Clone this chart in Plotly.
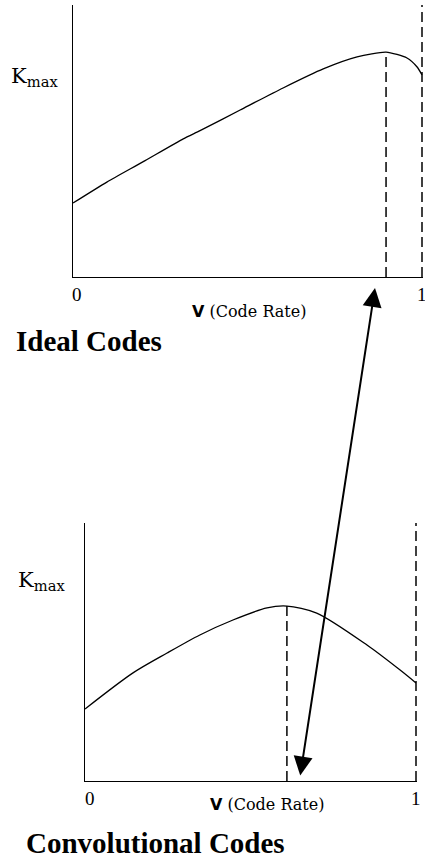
import plotly.graph_objects as go

# ---- data ----
rate_ideal = [0, 0.097, 0.2, 0.316, 0.364, 0.479, 0.602, 0.717, 0.814, 0.897, 0.957, 0.986, 1.0]
kmax_ideal = [0.272, 0.349, 0.423, 0.508, 0.538, 0.614, 0.695, 0.765, 0.809, 0.827, 0.805, 0.772, 0.743]

rate_conv = [0, 0.145, 0.248, 0.347, 0.447, 0.55, 0.61, 0.70, 0.852, 0.952, 1.0]
kmax_conv = [0.279, 0.419, 0.496, 0.566, 0.624, 0.671, 0.678, 0.651, 0.527, 0.430, 0.380]

peak_ideal = 0.897
peak_conv = 0.61
tick_values = [0, 1]
tick_labels = ["0", "1"]

W, H = 425, 858


def px(x):
    return x / W


def py(y):
    return 1 - y / H


fig = go.Figure()
fig.add_trace(go.Scatter(x=rate_ideal, y=kmax_ideal, mode="lines",
                         line=dict(color="black", width=1.3, shape="spline", smoothing=0.6),
                         xaxis="x", yaxis="y", hoverinfo="skip"))
fig.add_trace(go.Scatter(x=rate_conv, y=kmax_conv, mode="lines",
                         line=dict(color="black", width=1.3, shape="spline", smoothing=0.8),
                         xaxis="x2", yaxis="y2", hoverinfo="skip"))

axis_common = dict(showline=True, linecolor="black", linewidth=1.2, showgrid=False,
                   zeroline=False, showticklabels=False, ticks="", fixedrange=True)

fig.update_layout(
    width=W, height=H, margin=dict(l=0, r=0, t=0, b=0),
    paper_bgcolor="white", plot_bgcolor="white", showlegend=False,
    xaxis=dict(axis_common, domain=[px(73), px(73 + 349 * 1.004)], range=[0, 1.004], anchor="y"),
    yaxis=dict(axis_common, domain=[py(277), py(5)], range=[0, 1], anchor="x"),
    xaxis2=dict(axis_common, domain=[px(85), px(85 + 331 * 1.004)], range=[0, 1.004], anchor="y2"),
    yaxis2=dict(axis_common, domain=[py(781), py(523)], range=[0, 1], anchor="x2"),
)

dash_line = dict(color="black", width=1.5, dash="10px,5px")
shapes = [
    dict(type="line", xref="x", yref="y", x0=peak_ideal, x1=peak_ideal, y0=0, y1=max(kmax_ideal), line=dash_line),
    dict(type="line", xref="x", yref="y", x0=1, x1=1, y0=0, y1=1, line=dash_line),
    dict(type="line", xref="x2", yref="y2", x0=peak_conv, x1=peak_conv, y0=0, y1=max(kmax_conv), line=dash_line),
    dict(type="line", xref="x2", yref="y2", x0=1, x1=1, y0=0, y1=1, line=dash_line),
]
fig.update_layout(shapes=shapes)

serif = "Liberation Serif"
ann = []
# tick labels
for xr, ypos, shifts in (("x", 294, (4, 0)), ("x2", 798, (5, 0))):
    for v, t, s in zip(tick_values, tick_labels, shifts):
        ann.append(dict(xref=xr, yref="paper", x=v, y=py(ypos), text=t, showarrow=False,
                        xshift=s, xanchor="center", yanchor="middle",
                        font=dict(family=serif, size=19, color="black")))

xlabel = '<b><span style="font-family:DejaVu Sans">V</span></b> (Code Rate)'
ann.append(dict(xref="paper", yref="paper", x=px(248.5), y=py(311), text=xlabel, showarrow=False,
                xanchor="center", yanchor="middle", font=dict(family="DejaVu Serif", size=16, color="black")))
ann.append(dict(xref="paper", yref="paper", x=px(266.5), y=py(804), text=xlabel, showarrow=False,
                xanchor="center", yanchor="middle", font=dict(family="DejaVu Serif", size=16, color="black")))

ylabel = "K<sub>max</sub>"
ann.append(dict(xref="paper", yref="paper", x=px(9), y=py(77), text=ylabel, showarrow=False,
                xanchor="left", yanchor="middle", font=dict(family="DejaVu Serif", size=21, color="black")))
ann.append(dict(xref="paper", yref="paper", x=px(16), y=py(581), text=ylabel, showarrow=False,
                xanchor="left", yanchor="middle", font=dict(family="DejaVu Serif", size=21, color="black")))

ann.append(dict(xref="paper", yref="paper", x=px(14), y=py(341), text="<b>Ideal Codes</b>", showarrow=False,
                xanchor="left", yanchor="middle", font=dict(family=serif, size=29, color="black")))
ann.append(dict(xref="paper", yref="paper", x=px(24), y=py(843), text="<b>Convolutional Codes</b>", showarrow=False,
                xanchor="left", yanchor="middle", font=dict(family=serif, size=29, color="black")))

# double-headed arrow linking the two optimum rates
arrow_top = (375, 288)
arrow_bottom = (300, 777)
ann.append(dict(xref="paper", yref="paper", x=px(arrow_top[0]), y=py(arrow_top[1]), text="",
                showarrow=True, ax=arrow_bottom[0] - arrow_top[0], ay=arrow_bottom[1] - arrow_top[1],
                arrowside="end+start", arrowhead=2, startarrowhead=2, arrowsize=1.9, startarrowsize=1.9,
                arrowwidth=2, arrowcolor="black", standoff=0, startstandoff=0))

fig.update_layout(annotations=ann)

fig.write_html("out.html", config={"displayModeBar": False},
               post_script="document.body.style.margin='0px';document.body.style.overflow='hidden';")
